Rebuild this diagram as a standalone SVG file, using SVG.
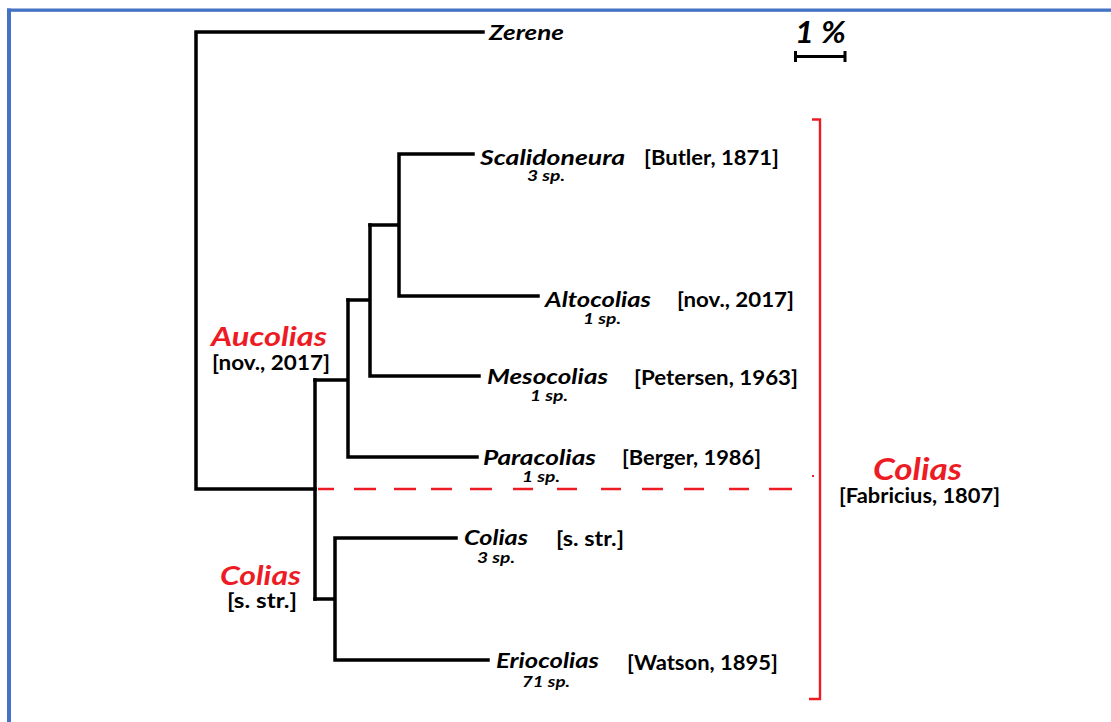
<svg xmlns="http://www.w3.org/2000/svg" width="1111" height="722" viewBox="0 0 1111 722">
<style>
.br{fill:none;stroke:#000;stroke-width:3.5;stroke-linecap:square;stroke-linejoin:miter}
.rd{fill:none;stroke:#ED1C24;stroke-width:2.4}
text{font-family:Lato,"Liberation Sans",sans-serif;font-weight:bold}
.g{font-style:italic;font-size:21px;fill:#000}
.a{font-size:20px;fill:#000}
.sp{font-style:italic;font-size:15px;fill:#000}
.rg{font-style:italic;fill:#ED1C24}
</style>
<rect x="0" y="0" width="1111" height="722" fill="#fff"/>
<g id="frame">
<rect x="7" y="8.5" width="1104" height="3.3" fill="#4472C4"/>
<rect x="7" y="8.5" width="4" height="713.5" fill="#4472C4"/>
</g>
<g id="connectors">
<path class="br" d="M483 32H196V489H315"/>
<path class="br" d="M315 380V599"/>
<path class="br" d="M315 380H348M348 300V457H477"/>
<path class="br" d="M348 300H370M370 225V376H479"/>
<path class="br" d="M370 225H399M399 154V296H538M399 154H473"/>
<path class="br" d="M315 599H335M335 538V660H488M335 538H456"/>
<path class="rd" d="M318 489H334M354 489H376M394 489H416M431 489H452M470 489H492M513 489H533M557 489H577M601 489H621M642 489H663M684 489H704M729 489H749M769 489H792"/>
</g>
<g id="scale">
<text x="795" y="43" font-size="30" font-style="italic" textLength="51" lengthAdjust="spacingAndGlyphs">1 %</text>
<path class="br" d="M795 56.5H845M795.5 51V62M845 51V62" style="stroke-width:3;stroke-linecap:butt"/>
</g>
<g id="bracket-colias">
<path class="rd" d="M812 119.5H820V699H809"/>
<rect x="812" y="475" width="2" height="2" fill="#ED1C24"/>
<text class="rg" x="873" y="480" font-size="31" textLength="89" lengthAdjust="spacingAndGlyphs">Colias</text>
<text class="a" x="839" y="503" textLength="161" lengthAdjust="spacingAndGlyphs">[Fabricius, 1807]</text>
</g>
<g id="zerene">
<text class="g" x="489" y="40" textLength="75" lengthAdjust="spacingAndGlyphs">Zerene</text>
</g>
<g id="scalidoneura">
<text class="g" x="480" y="165" textLength="145" lengthAdjust="spacingAndGlyphs">Scalidoneura</text>
<text class="a" x="644" y="165" textLength="135" lengthAdjust="spacingAndGlyphs">[Butler, 1871]</text>
<text class="sp" x="527" y="181" textLength="38" lengthAdjust="spacingAndGlyphs">3 sp.</text>
</g>
<g id="altocolias">
<text class="g" x="545" y="307" textLength="106" lengthAdjust="spacingAndGlyphs">Altocolias</text>
<text class="a" x="677" y="307" textLength="117" lengthAdjust="spacingAndGlyphs">[nov., 2017]</text>
<text class="sp" x="583" y="324" textLength="38" lengthAdjust="spacingAndGlyphs">1 sp.</text>
</g>
<g id="mesocolias">
<text class="g" x="487" y="384" textLength="121" lengthAdjust="spacingAndGlyphs">Mesocolias</text>
<text class="a" x="634" y="385" textLength="164" lengthAdjust="spacingAndGlyphs">[Petersen, 1963]</text>
<text class="sp" x="530" y="401" textLength="38" lengthAdjust="spacingAndGlyphs">1 sp.</text>
</g>
<g id="paracolias">
<text class="g" x="483" y="465" textLength="113" lengthAdjust="spacingAndGlyphs">Paracolias</text>
<text class="a" x="622" y="465" textLength="139" lengthAdjust="spacingAndGlyphs">[Berger, 1986]</text>
<text class="sp" x="522" y="482" textLength="38" lengthAdjust="spacingAndGlyphs">1 sp.</text>
</g>
<g id="colias-sstr">
<text class="g" x="464" y="545" textLength="64" lengthAdjust="spacingAndGlyphs">Colias</text>
<text class="a" x="556" y="546" textLength="68" lengthAdjust="spacingAndGlyphs">[s. str.]</text>
<text class="sp" x="477" y="563" textLength="38" lengthAdjust="spacingAndGlyphs">3 sp.</text>
</g>
<g id="eriocolias">
<text class="g" x="496" y="668" textLength="103" lengthAdjust="spacingAndGlyphs">Eriocolias</text>
<text class="a" x="627" y="670" textLength="151" lengthAdjust="spacingAndGlyphs">[Watson, 1895]</text>
<text class="sp" x="522" y="687" textLength="48" lengthAdjust="spacingAndGlyphs">71 sp.</text>
</g>
<g id="clade-aucolias">
<text class="rg" x="211" y="346" font-size="27" textLength="116" lengthAdjust="spacingAndGlyphs">Aucolias</text>
<text class="a" x="212" y="370" textLength="118" lengthAdjust="spacingAndGlyphs">[nov., 2017]</text>
</g>
<g id="clade-colias-sstr">
<text class="rg" x="220" y="585" font-size="27" textLength="81" lengthAdjust="spacingAndGlyphs">Colias</text>
<text class="a" x="227" y="608" textLength="70" lengthAdjust="spacingAndGlyphs">[s. str.]</text>
</g>
</svg>
